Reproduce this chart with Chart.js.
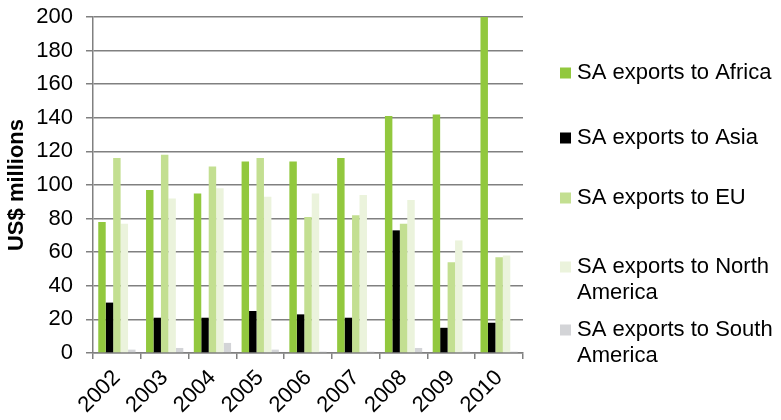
<!DOCTYPE html>
<html>
<head>
<meta charset="utf-8">
<script src="https://cdn.jsdelivr.net/npm/chart.js@4.4.1/dist/chart.umd.min.js"></script>
<style>
  html, body { margin: 0; padding: 0; background: #ffffff; }
  #wrap { width: 781px; height: 420px; }
</style>
</head>
<body>
<div id="wrap"><canvas id="chart" width="781" height="420"></canvas></div>
<script>
// South African exports by destination, US$ millions
const years = ['2002', '2003', '2004', '2005', '2006', '2007', '2008', '2009', '2010'];
const seriesNames = [
  'SA exports to Africa',
  'SA exports to Asia',
  'SA exports to EU',
  'SA exports to North\nAmerica',
  'SA exports to South\nAmerica'
];
const africa       = [78, 97, 95, 114, 114, 116, 141, 142, 200];
const asia         = [30, 21, 21, 25, 23, 21, 73, 15, 18];
const eu           = [116, 118, 111, 116, 81, 82, 77, 54, 57];
const northAmerica = [77, 92, 98, 93, 95, 94, 91, 67, 58];
const southAmerica = [2, 3, 6, 2, 0.8, 0.8, 3, 0.8, 0.8];
const yTicks = [0, 20, 40, 60, 80, 100, 120, 140, 160, 180, 200];

const seriesValues = [africa, asia, eu, northAmerica, southAmerica];
const seriesColors = ['#92c83e', '#000000', '#c3df91', '#ebf3dc', '#d3d4d7'];

const FONT = "'Liberation Sans', Arial, sans-serif";
const GRID = '#808080';

// Legend drawn down the right-hand side, one entry per series
const sideLegend = {
  id: 'sideLegend',
  afterDraw(chart, args, opts) {
    const ctx = chart.ctx;
    ctx.save();
    ctx.font = opts.size + 'px ' + FONT;
    ctx.textAlign = 'left';
    ctx.textBaseline = 'middle';
    chart.data.datasets.forEach((ds, i) => {
      const y = opts.rows[i];
      const lines = ds.label.split('\n');
      ctx.fillStyle = ds.backgroundColor;
      ctx.fillRect(opts.boxX, y - opts.box / 2, opts.box, opts.box);
      ctx.fillStyle = '#000000';
      lines.forEach((t, k) => ctx.fillText(t, opts.textX, y + k * opts.lineHeight));
    });
    ctx.restore();
  }
};

// Rotated value-axis title, centred on the plot area
const axisTitle = {
  id: 'axisTitle',
  afterDraw(chart, args, opts) {
    const ctx = chart.ctx;
    const area = chart.chartArea;
    ctx.save();
    ctx.translate(opts.x, (area.top + area.bottom) / 2);
    ctx.rotate(-Math.PI / 2);
    ctx.font = 'bold ' + opts.size + 'px ' + FONT;
    ctx.fillStyle = '#000000';
    ctx.textAlign = 'center';
    ctx.textBaseline = 'middle';
    ctx.fillText(opts.text, 0, 0);
    ctx.restore();
  }
};

new Chart(document.getElementById('chart'), {
  type: 'bar',
  data: {
    labels: years,
    datasets: seriesNames.map((name, i) => ({
      label: name,
      data: seriesValues[i],
      backgroundColor: seriesColors[i],
      borderWidth: 0,
      categoryPercentage: 0.78,
      barPercentage: 1.0
    }))
  },
  options: {
    responsive: false,
    animation: false,
    devicePixelRatio: 1,
    layout: { padding: { top: 17, right: 258, left: 0, bottom: 0 } },
    plugins: {
      legend: { display: false },
      tooltip: { enabled: false },
      sideLegend: {
        size: 22, box: 11, boxX: 560, textX: 577, lineHeight: 26,
        rows: [73, 138, 198, 267, 330]
      },
      axisTitle: { text: 'US$ millions', x: 17, size: 22 }
    },
    scales: {
      x: {
        grid: {
          display: true, drawOnChartArea: false, offset: true,
          color: GRID, lineWidth: 1.5, tickLength: 6, tickColor: GRID
        },
        border: { display: true, color: GRID, width: 1.5 },
        ticks: {
          font: { family: FONT, size: 22 }, color: '#000000',
          minRotation: 45, maxRotation: 45, padding: 6, autoSkip: false
        },
        afterFit(scale) {
          scale.height = 67;
          scale.paddingLeft = 0;
          scale.paddingRight = 0;
        }
      },
      y: {
        min: 0, max: 200,
        afterBuildTicks(scale) { scale.ticks = yTicks.map(v => ({ value: v })); },
        grid: { color: GRID, lineWidth: 1.5, tickLength: 7, tickColor: GRID },
        border: { display: true, color: GRID, width: 1.5 },
        ticks: {
          font: { family: FONT, size: 22 }, color: '#000000', padding: 13
        },
        afterFit(scale) {
          scale.width = 93;
          scale.paddingTop = 0;
          scale.paddingBottom = 0;
        }
      }
    }
  },
  plugins: [sideLegend, axisTitle]
});
</script>
</body>
</html>
